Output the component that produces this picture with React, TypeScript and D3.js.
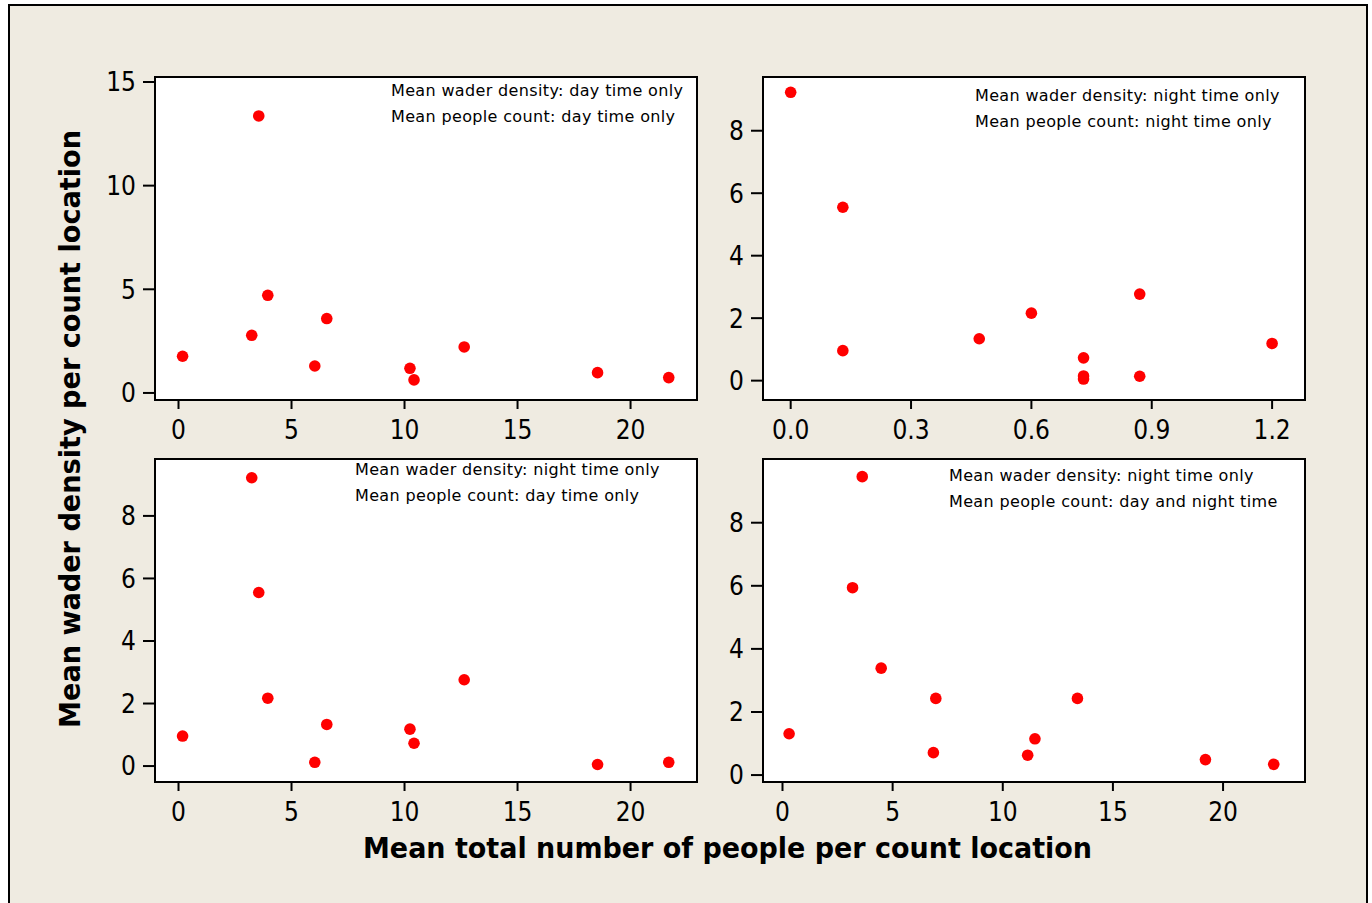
import React from "react";
import * as d3 from "d3";

// Mean people counts per count location
const peopleDay = [0.18, 3.24, 3.55, 3.95, 6.03, 6.56, 10.24, 10.42, 12.64, 18.54, 21.69];
const peopleNight = [0.0, 0.13, 0.13, 0.47, 0.6, 0.73, 0.73, 0.73, 0.87, 0.87, 1.2];
const peopleAll = [0.3, 3.18, 3.62, 4.48, 6.85, 6.96, 11.13, 11.46, 13.39, 19.2, 22.3];

// Mean wader densities per count location
const waderDay = [1.77, 2.78, 13.36, 4.71, 1.3, 3.59, 1.19, 0.63, 2.22, 0.98, 0.74];
const waderNightByDay = [0.96, 9.22, 5.55, 2.17, 0.12, 1.33, 1.18, 0.73, 2.76, 0.05, 0.12];
const waderNightByNight = [9.23, 5.55, 0.96, 1.34, 2.16, 0.73, 0.15, 0.05, 2.77, 0.14, 1.19];
const waderNightByAll = [1.31, 5.94, 9.46, 3.39, 0.71, 2.43, 0.63, 1.15, 2.43, 0.49, 0.34];

// Tick values
const ticksPeople = [0, 5, 10, 15, 20];
const ticksPeopleNight = [0, 0.3, 0.6, 0.9, 1.2];
const ticksWaderDay = [0, 5, 10, 15];
const ticksWaderNight = [0, 2, 4, 6, 8];

const notes = [
  ["Mean wader density: day time only", "Mean people count: day time only"],
  ["Mean wader density: night time only", "Mean people count: night time only"],
  ["Mean wader density: night time only", "Mean people count: day time only"],
  ["Mean wader density: night time only", "Mean people count: day and night time"],
];

const FONT = "'DejaVu Sans Condensed', 'DejaVu Sans', sans-serif";
const NOTE_FONT = "'DejaVu Sans', sans-serif";

type PanelSpec = {
  x0: number; x1: number; y0: number; y1: number;
  xDomain: [number, number]; yDomain: [number, number];
  xs: number[]; ys: number[];
  xTicks: number[]; yTicks: number[];
  xFmt: (v: number) => string;
  note: string[]; noteX: number; noteY: number;
};

const intFmt = (v: number) => d3.format("d")(v);
const oneDec = (v: number) => d3.format(".1f")(v);

const panels: PanelSpec[] = [
  {
    x0: 155, x1: 697, y0: 77, y1: 400,
    xDomain: [-1.04, 22.94], yDomain: [-0.34, 15.24],
    xs: peopleDay, ys: waderDay, xTicks: ticksPeople, yTicks: ticksWaderDay, xFmt: intFmt,
    note: notes[0], noteX: 391, noteY: 96,
  },
  {
    x0: 763, x1: 1305, y0: 77, y1: 400,
    xDomain: [-0.069, 1.282], yDomain: [-0.62, 9.72],
    xs: peopleNight, ys: waderNightByNight, xTicks: ticksPeopleNight, yTicks: ticksWaderNight, xFmt: oneDec,
    note: notes[1], noteX: 975, noteY: 101,
  },
  {
    x0: 155, x1: 697, y0: 459, y1: 782,
    xDomain: [-1.04, 22.94], yDomain: [-0.51, 9.82],
    xs: peopleDay, ys: waderNightByDay, xTicks: ticksPeople, yTicks: ticksWaderNight, xFmt: intFmt,
    note: notes[2], noteX: 355, noteY: 475,
  },
  {
    x0: 763, x1: 1305, y0: 459, y1: 782,
    xDomain: [-0.885, 23.72], yDomain: [-0.22, 10.02],
    xs: peopleAll, ys: waderNightByAll, xTicks: ticksPeople, yTicks: ticksWaderNight, xFmt: intFmt,
    note: notes[3], noteX: 949, noteY: 481,
  },
];

function Panel({ p }: { p: PanelSpec }) {
  const x = d3.scaleLinear().domain(p.xDomain).range([p.x0, p.x1]);
  const y = d3.scaleLinear().domain(p.yDomain).range([p.y1, p.y0]);
  return (
    <g>
      <rect x={p.x0} y={p.y0} width={p.x1 - p.x0} height={p.y1 - p.y0} fill="#fff" stroke="#000" strokeWidth={2} />
      {p.yTicks.map((t) => (
        <g key={"y" + t}>
          <line x1={p.x0 - 12} x2={p.x0} y1={y(t)} y2={y(t)} stroke="#000" strokeWidth={2} />
          <text x={p.x0 - 19} y={y(t)} dy="0.36em" textAnchor="end" fontSize={26} fontFamily={FONT} fill="#000">
            {intFmt(t)}
          </text>
        </g>
      ))}
      {p.xTicks.map((t) => (
        <g key={"x" + t}>
          <line x1={x(t)} x2={x(t)} y1={p.y1} y2={p.y1 + 9} stroke="#000" strokeWidth={2} />
          <text x={x(t)} y={p.y1 + 39} textAnchor="middle" fontSize={26} fontFamily={FONT} fill="#000">
            {p.xFmt(t)}
          </text>
        </g>
      ))}
      {p.xs.map((v, i) => (
        <circle key={i} cx={x(v)} cy={y(p.ys[i])} r={5.8} fill="#ff0000" />
      ))}
      {p.note.map((s, i) => (
        <text
          key={i}
          x={p.noteX}
          y={p.noteY + i * 26}
          fontSize={16}
          letterSpacing={0.35}
          fontFamily={NOTE_FONT}
          fill="#000"
        >
          {s}
        </text>
      ))}
    </g>
  );
}

export default function App() {
  return (
    <svg
      width={1372}
      height={903}
      style={{ position: "absolute", left: 0, top: 0, display: "block" }}
    >
      <rect x={0} y={0} width={1372} height={903} fill="#fff" />
      <rect x={9} y={5} width={1358} height={1000} fill="#efebe1" stroke="#000" strokeWidth={2} />
      {panels.map((p, i) => (
        <Panel key={i} p={p} />
      ))}
      <text
        x={727.5}
        y={858}
        textAnchor="middle"
        fontSize={28}
        fontWeight="bold"
        fontFamily={FONT}
        textLength={729}
        lengthAdjust="spacingAndGlyphs"
        fill="#000"
      >
        Mean total number of people per count location
      </text>
      <text
        transform="translate(80,429) rotate(-90)"
        textAnchor="middle"
        fontSize={28}
        fontWeight="bold"
        fontFamily={FONT}
        textLength={598}
        lengthAdjust="spacingAndGlyphs"
        fill="#000"
      >
        Mean wader density per count location
      </text>
    </svg>
  );
}
